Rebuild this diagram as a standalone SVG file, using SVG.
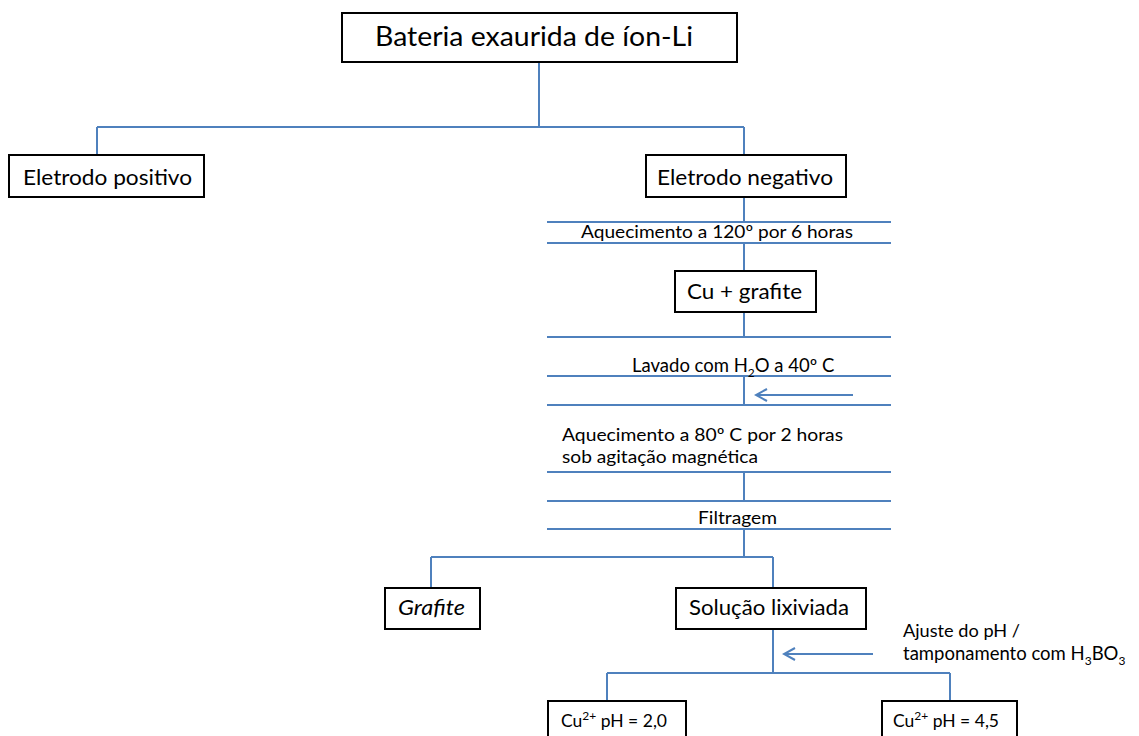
<svg xmlns="http://www.w3.org/2000/svg" width="1139" height="736" viewBox="0 0 1139 736">
<defs>
<style>
.box{fill:#fff;stroke:#000;stroke-width:2}
.ln{stroke:#4F81BD;stroke-width:2;fill:none}
text{font-family:Lato,"Open Sans","Liberation Sans",sans-serif;fill:#000}
.t1{font-size:27px}
.t2{font-size:21px}
.t3{font-size:18px}
.t4{font-size:17.5px}
</style>
<marker id="open" markerWidth="14" markerHeight="16" refX="12" refY="8" orient="auto" markerUnits="userSpaceOnUse">
<path d="M1,2 L12,8 L1,14" fill="none" stroke="#4F81BD" stroke-width="2"/>
</marker>
</defs>
<rect width="1139" height="736" fill="#fff"/>
<g id="connectors">
<path class="ln" d="M539,62V127M97,127H744M97,127V155M744,127V155"/>
<path class="ln" d="M744,197V222M744,243V271M744,312V337M744,376V405M744,472V501M744,529V557"/>
<path class="ln" d="M547,222H891M547,243H891M547,337H891M547,376H891M547,405H891M547,472H891M547,501H891M547,529H891"/>
<path class="ln" d="M431,557H773M431,557V588M773,557V588M773,628V673M607,673H950M607,673V701M950,673V701"/>
<path class="ln" d="M853,395H756" marker-end="url(#open)"/>
<path class="ln" d="M873,654H784" marker-end="url(#open)"/>
</g>
<g id="n-bateria">
<rect class="box" x="342" y="13" width="395" height="49"/>
<text class="t1" x="375" y="46" textLength="318" lengthAdjust="spacingAndGlyphs">Bateria exaurida de íon-Li</text>
</g>
<g id="n-positivo">
<rect class="box" x="9" y="155" width="195" height="42"/>
<text class="t2" x="23" y="185" textLength="169" lengthAdjust="spacingAndGlyphs">Eletrodo positivo</text>
</g>
<g id="n-negativo">
<rect class="box" x="646" y="155" width="200" height="42"/>
<text class="t2" x="657" y="185" textLength="176" lengthAdjust="spacingAndGlyphs">Eletrodo negativo</text>
</g>
<g id="s-aquec120">
<text class="t3" x="581" y="238" textLength="272" lengthAdjust="spacingAndGlyphs">Aquecimento a 120º por 6 horas</text>
</g>
<g id="n-cugrafite">
<rect class="box" x="675" y="271" width="141" height="41"/>
<text class="t2" x="687" y="299" textLength="115" lengthAdjust="spacingAndGlyphs">Cu + grafite</text>
</g>
<g id="s-lavado">
<text class="t3" x="632" y="372" style="font-size:18.5px">Lavado com H<tspan font-size="12" dy="5">2</tspan><tspan dy="-5">O a 40º C</tspan></text>
</g>
<g id="s-aquec80">
<text class="t3" x="562" y="441" textLength="281" lengthAdjust="spacingAndGlyphs">Aquecimento a 80º C  por 2 horas</text>
<text class="t3" x="562" y="463" textLength="196" lengthAdjust="spacingAndGlyphs">sob agitação magnética</text>
</g>
<g id="s-filtragem">
<text class="t3" x="698" y="524" textLength="79" lengthAdjust="spacingAndGlyphs">Filtragem</text>
</g>
<g id="n-grafite">
<rect class="box" x="385" y="588" width="95" height="41"/>
<text class="t2" x="398" y="615" font-style="italic" textLength="67" lengthAdjust="spacingAndGlyphs">Grafite</text>
</g>
<g id="n-solucao">
<rect class="box" x="676" y="588" width="190" height="41"/>
<text class="t2" x="689" y="615" textLength="160" lengthAdjust="spacingAndGlyphs">Solução lixiviada</text>
</g>
<g id="s-ajuste">
<text class="t3" x="903" y="637" textLength="117" lengthAdjust="spacingAndGlyphs">Ajuste do pH /</text>
<text class="t3" x="903" y="660" style="font-size:18.5px">tamponamento com H<tspan font-size="12" dy="5">3</tspan><tspan dy="-5">BO</tspan><tspan font-size="12" dy="5">3</tspan></text>
</g>
<g id="n-cu20">
<rect class="box" x="548" y="701" width="138" height="45"/>
<text class="t4" x="561" y="727">Cu<tspan font-size="12" dy="-7">2+</tspan><tspan dy="7"> pH = 2,0</tspan></text>
</g>
<g id="n-cu45">
<rect class="box" x="882" y="701" width="135" height="45"/>
<text class="t4" x="893" y="727">Cu<tspan font-size="12" dy="-7">2+</tspan><tspan dy="7"> pH = 4,5</tspan></text>
</g>
</svg>
